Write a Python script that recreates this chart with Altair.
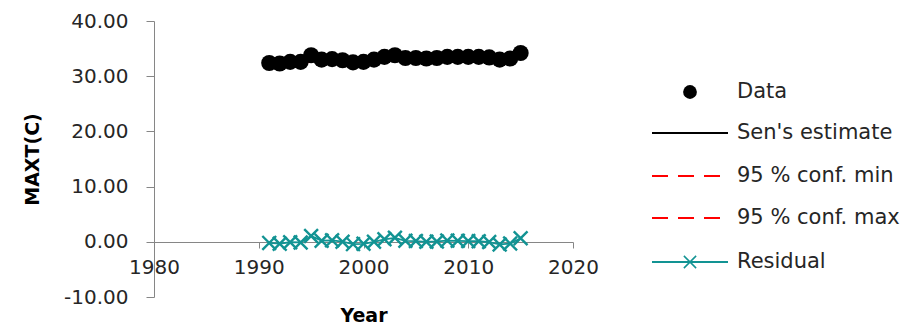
import altair as alt
import pandas as pd

# Annual maximum temperature series with Sen's slope trend analysis
years = list(range(1991, 2016))
maxt = [32.4, 32.3, 32.6, 32.6, 33.8, 33.0, 33.1, 32.9, 32.5, 32.6,
        33.0, 33.5, 33.8, 33.3, 33.3, 33.2, 33.3, 33.5, 33.5, 33.5,
        33.5, 33.4, 33.0, 33.2, 34.2]
residual = [-0.20, -0.34, -0.08, -0.12, 1.04, 0.20, 0.26, 0.02, -0.42, -0.36,
            0.00, 0.46, 0.72, 0.18, 0.14, 0.00, 0.06, 0.22, 0.18, 0.14,
            0.10, -0.04, -0.48, -0.32, 0.64]

# Trend lines given by their end points
trend_years = [1991, 2015]
sen_estimate = [32.60, 33.56]
conf_min = [32.75, 33.35]
conf_max = [32.35, 33.75]

x_ticks = [1980, 1990, 2000, 2010, 2020]
y_ticks = [-10, 0, 10, 20, 30, 40]

FONT = "DejaVu Sans"
AXIS_GREY = "#868686"
TEXT = "#262626"
TEAL = "#129393"
RED = "#ff0000"

data_df = pd.DataFrame({"year": years, "value": maxt})
resid_df = pd.DataFrame({"year": years, "value": residual})
sen_df = pd.DataFrame({"year": trend_years, "value": sen_estimate})
cmin_df = pd.DataFrame({"year": trend_years, "value": conf_min})
cmax_df = pd.DataFrame({"year": trend_years, "value": conf_max})

x_scale = alt.Scale(domain=[1980, 2020], nice=False, zero=False)
y_scale = alt.Scale(domain=[-10, 40], nice=False)

x_axis = alt.Axis(
    values=x_ticks, format="d", grid=False, offset=-55, tickSize=6,
    domainColor=AXIS_GREY, tickColor=AXIS_GREY, labelFlush=False,
    labelFont=FONT, labelFontSize=20, labelColor=TEXT, labelPadding=9,
    title="Year", titleFont=FONT, titleFontSize=19, titleFontWeight="bold",
    titleColor="#000000", titlePadding=29,
)
y_axis = alt.Axis(
    values=y_ticks, grid=False, tickSize=8,
    labelExpr="(datum.value < 0 ? '-' : '') + format(abs(datum.value), '.2f')",
    domainColor=AXIS_GREY, tickColor=AXIS_GREY,
    labelFont=FONT, labelFontSize=20, labelColor=TEXT, labelPadding=18,
    title="MAXT(C)", titleFont=FONT, titleFontSize=19, titleFontWeight="bold",
    titleColor="#000000", titlePadding=21,
)


def enc(chart):
    return chart.encode(
        x=alt.X("year:Q", scale=x_scale, axis=x_axis),
        y=alt.Y("value:Q", scale=y_scale, axis=y_axis),
    )


sen_line = enc(alt.Chart(sen_df).mark_line(color="#000000", strokeWidth=2))
cmin_line = enc(alt.Chart(cmin_df).mark_line(color=RED, strokeWidth=2, strokeDash=[16, 10]))
cmax_line = enc(alt.Chart(cmax_df).mark_line(color=RED, strokeWidth=2, strokeDash=[16, 10]))
points = enc(alt.Chart(data_df).mark_circle(color="#000000", size=260, opacity=1))

X_SHAPE = "M-1,-1L1,1M-1,1L1,-1"
resid_line = enc(alt.Chart(resid_df).mark_line(color=TEAL, strokeWidth=1.8))
resid_marks = enc(alt.Chart(resid_df).mark_point(
    shape=X_SHAPE, color=TEAL, size=190, strokeWidth=2.4, filled=False, opacity=1))

# Legend drawn to the right of the plot area
one = pd.DataFrame({"k": [0]})
LX0, LX1, LXM, LTX = 498, 574, 536, 583
legend_rows = [("Data", 71), ("Sen's estimate", 112), ("95 % conf. min", 155),
               ("95 % conf. max", 197), ("Residual", 241)]

legend_layers = []
for label, ly in legend_rows:
    legend_layers.append(
        alt.Chart(one).mark_text(align="left", baseline="middle", font=FONT,
                                 fontSize=21, color=TEXT)
        .encode(x=alt.value(LTX), y=alt.value(ly), text=alt.value(label))
    )

legend_layers.append(
    alt.Chart(one).mark_circle(color="#000000", size=190, opacity=1)
    .encode(x=alt.value(LXM), y=alt.value(71))
)
legend_layers.append(
    alt.Chart(one).mark_rule(color="#000000", strokeWidth=2)
    .encode(x=alt.value(LX0), x2=alt.value(LX1), y=alt.value(112))
)
for ly in (155, 197):
    legend_layers.append(
        alt.Chart(one).mark_rule(color=RED, strokeWidth=2, strokeDash=[16, 10])
        .encode(x=alt.value(LX0), x2=alt.value(LX1), y=alt.value(ly))
    )
legend_layers.append(
    alt.Chart(one).mark_rule(color=TEAL, strokeWidth=2)
    .encode(x=alt.value(LX0), x2=alt.value(LX1), y=alt.value(241))
)
legend_layers.append(
    alt.Chart(one).mark_point(shape=X_SHAPE, color=TEAL, size=150, strokeWidth=1.5,
                              filled=False, opacity=1)
    .encode(x=alt.value(LXM), y=alt.value(241))
)

chart = alt.layer(
    sen_line, cmin_line, cmax_line, points, resid_line, resid_marks, *legend_layers
).properties(
    width=419,
    height=276,
    autosize=alt.AutoSizeParams(type="none"),
    padding={"left": 154, "top": 21, "right": 350, "bottom": 27},
    background="#ffffff",
).configure_view(stroke=None)

chart.save("out.html", embed_options={"renderer": "svg", "actions": False})
